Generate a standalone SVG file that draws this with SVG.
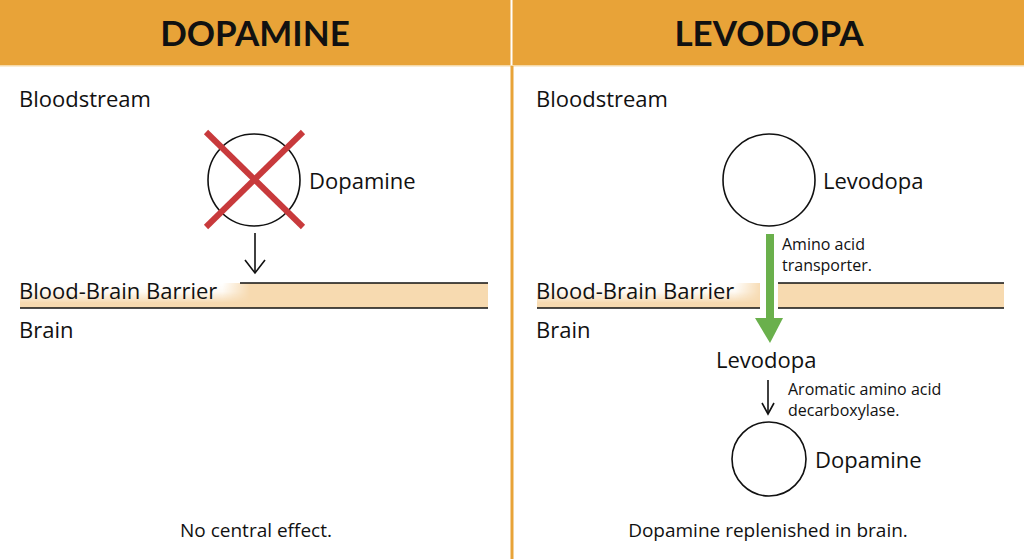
<svg xmlns="http://www.w3.org/2000/svg" width="1024" height="559" viewBox="0 0 1024 559">
<style>
.t{font-family:"Open Sans",Lato,"Liberation Sans",sans-serif;fill:#111}
.h{font-family:Lato,"Liberation Sans",sans-serif;font-weight:700;font-size:35px;fill:#111;text-anchor:middle}
.lg{font-size:22px}
.sm{font-size:16px}
.bt{font-size:19px;text-anchor:middle}
.ln{stroke:#111;stroke-width:1.6;fill:none}
.band{fill:#F7DAB0}
.circ{fill:#fff;stroke:#111;stroke-width:1.6}
</style>
<defs>
<linearGradient id="fadeV" x1="0" y1="0" x2="0" y2="1">
<stop offset="0" stop-color="#fff" stop-opacity="1"/>
<stop offset="0.35" stop-color="#fff" stop-opacity="0.85"/>
<stop offset="0.8" stop-color="#fff" stop-opacity="0"/>
</linearGradient>
<linearGradient id="fadeH" x1="0" y1="0" x2="1" y2="0">
<stop offset="0" stop-color="#fff"/>
<stop offset="0.88" stop-color="#fff"/>
<stop offset="1" stop-color="#000"/>
</linearGradient>
<mask id="mL" maskUnits="userSpaceOnUse" x="0" y="270" width="1024" height="50">
<rect x="20" y="283" width="230" height="25" fill="url(#fadeH)"/>
</mask>
<mask id="mR" maskUnits="userSpaceOnUse" x="0" y="270" width="1024" height="50">
<rect x="537" y="283" width="225" height="25" fill="url(#fadeH)"/>
</mask>
<marker id="openL" markerWidth="16" markerHeight="24" refX="14" refY="12" orient="auto" markerUnits="userSpaceOnUse" viewBox="0 0 16 24">
<path d="M1,2 L14,12 L1,22" fill="none" stroke="#111" stroke-width="1.6"/>
</marker>
<marker id="openS" markerWidth="14" markerHeight="16" refX="12" refY="8" orient="auto" markerUnits="userSpaceOnUse" viewBox="0 0 14 16">
<path d="M1,2 L12,8 L1,14" fill="none" stroke="#111" stroke-width="1.6"/>
</marker>
</defs>
<rect width="1024" height="559" fill="#fff"/>
<g id="header">
<rect x="0" y="0" width="1024" height="65" fill="#E8A338"/>
<rect x="510.5" y="0" width="2" height="65" fill="#fff"/>
<rect x="0" y="65" width="1024" height="1.5" fill="#F5D9A8"/>
<text class="h" x="255" y="46">DOPAMINE</text>
<text class="h" x="769" y="46">LEVODOPA</text>
</g>
<rect id="divider" x="510.5" y="66" width="3" height="493" fill="#E8A338"/>
<g id="left-barrier">
<rect class="band" x="20" y="283" width="468" height="25"/>
<rect x="20" y="283" width="230" height="25" fill="url(#fadeV)" mask="url(#mL)"/>
<line class="ln" x1="240" y1="283" x2="488" y2="283"/>
<line class="ln" x1="20" y1="308" x2="488" y2="308"/>
<text class="t lg" x="19" y="299">Blood-Brain Barrier</text>
</g>
<g id="right-barrier">
<rect class="band" x="537" y="283" width="223" height="25"/>
<rect x="537" y="283" width="225" height="25" fill="url(#fadeV)" mask="url(#mR)"/>
<rect class="band" x="778" y="283" width="226" height="25"/>
<line class="ln" x1="778" y1="283" x2="1004" y2="283"/>
<line class="ln" x1="537" y1="308" x2="760" y2="308"/>
<line class="ln" x1="778" y1="308" x2="1004" y2="308"/>
<text class="t lg" x="536" y="299">Blood-Brain Barrier</text>
</g>
<g id="left-labels">
<text class="t lg" x="19" y="107">Bloodstream</text>
<text class="t lg" x="19" y="338">Brain</text>
<text class="t bt" x="256" y="537">No central effect.</text>
</g>
<g id="right-labels">
<text class="t lg" x="536" y="107">Bloodstream</text>
<text class="t lg" x="536" y="338">Brain</text>
<text class="t bt" x="768" y="537">Dopamine replenished in brain.</text>
</g>
<g id="dopamine-blocked">
<circle class="circ" cx="254" cy="180" r="46"/>
<line x1="206" y1="132" x2="303" y2="227" stroke="#C83A3C" stroke-width="6"/>
<line x1="303" y1="132" x2="206" y2="227" stroke="#C83A3C" stroke-width="6"/>
<text class="t lg" x="309" y="189">Dopamine</text>
</g>
<g id="levodopa-blood">
<circle class="circ" cx="769" cy="180" r="46"/>
<text class="t lg" x="823" y="189">Levodopa</text>
</g>
<g id="levodopa-brain">
<text class="t lg" x="716" y="368">Levodopa</text>
</g>
<g id="dopamine-brain">
<circle class="circ" cx="769" cy="459" r="37"/>
<text class="t lg" x="815" y="468">Dopamine</text>
</g>
<g id="connectors">
<line class="ln" x1="255" y1="233" x2="255" y2="273" marker-end="url(#openL)"/>
<rect x="766" y="234" width="8" height="86" fill="#6AB04C"/>
<polygon points="755,318 783,318 770,343" fill="#6AB04C"/>
<text class="t sm" x="782" y="250">Amino acid</text>
<text class="t sm" x="782" y="270.5">transporter.</text>
<line class="ln" x1="768" y1="380" x2="768" y2="414" marker-end="url(#openS)"/>
<text class="t sm" x="788" y="395">Aromatic amino acid</text>
<text class="t sm" x="788" y="415.5">decarboxylase.</text>
</g>
</svg>
